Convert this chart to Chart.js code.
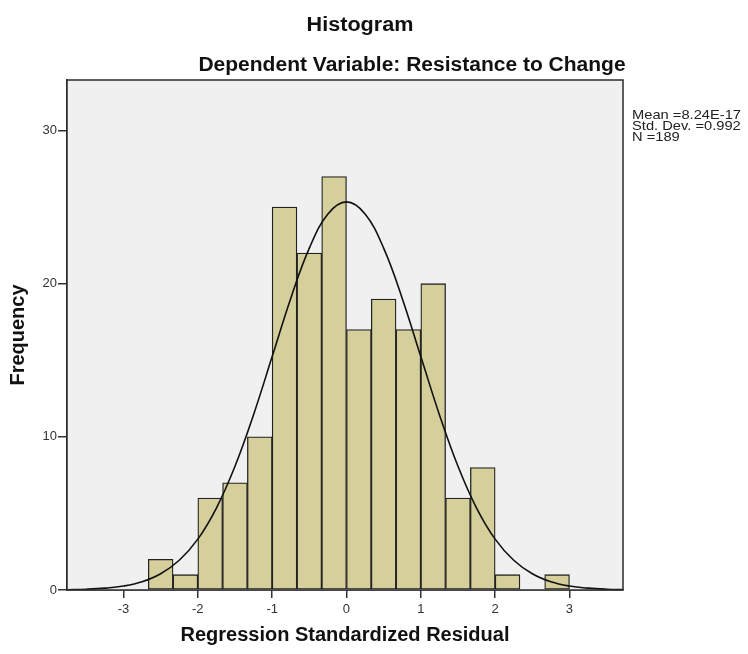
<!DOCTYPE html>
<html>
<head>
<meta charset="utf-8">
<script src="https://cdn.jsdelivr.net/npm/chart.js@4/dist/chart.umd.min.js"></script>
<style>
html,body{margin:0;padding:0;background:#fff}
#wrap{width:748px;height:654px;position:relative}
</style>
</head>
<body>
<div id="wrap"><canvas id="histChart" width="748" height="654"></canvas></div>
<script>
// bins are 1/3 wide
const binCenters=[-2.5,-2.1667,-1.8333,-1.5,-1.1667,-0.8333,-0.5,-0.1667,0.1667,0.5,0.8333,1.1667,1.5,1.8333,2.1667,2.8333];
const counts=[2,1,6,7,10,25,22,27,17,19,17,20,6,8,1,1];
const curveX=[-3.75,-3.5,-3.25,-3,-2.75,-2.5,-2.25,-2,-1.75,-1.5,-1.25,-1,-0.75,-0.5,-0.25,0,0.25,0.5,0.75,1,1.25,1.5,1.75,2,2.25,2.5,2.75,3,3.25,3.5,3.75];
const curveY=[0.02,0.05,0.12,0.26,0.54,1.06,1.94,3.32,5.35,8.08,11.45,15.24,19.04,22.32,24.55,25.34,24.55,22.32,19.04,15.24,11.45,8.08,5.35,3.32,1.94,1.06,0.54,0.26,0.12,0.05,0.02];
const xTicks=[-3,-2,-1,0,1,2,3];
const yTicks=[0,10,20,30];
const statLines=["Mean =8.24E-17","Std. Dev. =0.992","N =189"];

const FONT='"Liberation Sans",Arial,sans-serif';

// text in the source is a bit wider than it is tall
function wideText(ctx,t,x,y,sx){ctx.save();ctx.translate(x,y);ctx.scale(sx,1);ctx.fillText(t,0,0);ctx.restore()}

const framePlugin={
  id:"frame",
  beforeDatasetsDraw(chart){
    const {ctx,chartArea:a}=chart;
    ctx.save();ctx.fillStyle="#f0f0f0";ctx.fillRect(a.left,a.top,a.right-a.left,a.bottom-a.top);ctx.restore();
  },
  afterDraw(chart){
    const {ctx,chartArea:a}=chart;
    ctx.save();
    ctx.strokeStyle="#2b2b2b";ctx.lineWidth=1.5;
    ctx.strokeRect(a.left,a.top,a.right-a.left,a.bottom-a.top);
    ctx.fillStyle="#111";ctx.textAlign="center";ctx.textBaseline="middle";
    ctx.font="bold 20px "+FONT;wideText(ctx,"Histogram",360,25,1.08);
    ctx.font="bold 20px "+FONT;wideText(ctx,"Dependent Variable: Resistance to Change",412,65,1.05);
    ctx.font="13px "+FONT;ctx.textAlign="left";ctx.fillStyle="#222";
    statLines.forEach((t,i)=>wideText(ctx,t,632,115+i*11,1.13));
    ctx.restore();
  }
};

new Chart(document.getElementById("histChart"),{
  data:{datasets:[
    {type:"bar",data:binCenters.map((x,i)=>({x,y:counts[i]})),backgroundColor:"#d4cf9b",borderColor:"#222",borderWidth:1.3,borderSkipped:false,barPercentage:1,categoryPercentage:1,order:2},
    {type:"line",data:curveX.map((x,i)=>({x,y:curveY[i]})),borderColor:"#111",borderWidth:1.6,pointRadius:0,tension:0.4,fill:false,order:1}
  ]},
  options:{
    responsive:false,animation:false,
    layout:{padding:{top:80,right:125,left:0,bottom:0}},
    plugins:{legend:{display:false},tooltip:{enabled:false}},
    scales:{
      x:{type:"linear",min:-3.76,max:3.72,offset:false,
        afterBuildTicks:s=>{s.ticks=xTicks.map(v=>({value:v}))},
        afterFit:s=>{s.height=64},
        grid:{offset:false,drawOnChartArea:false,drawTicks:true,tickLength:8,color:"#333",lineWidth:1.5},
        border:{display:true,color:"#2b2b2b",width:1.5},
        ticks:{color:"#333",font:{family:FONT,size:13},padding:4,maxRotation:0},
        title:{display:true,text:"Regression Standardized Residual",color:"#111",font:{family:FONT,size:20,weight:"bold"},padding:{top:0,bottom:7}}
      },
      y:{type:"linear",min:0,max:33.3,
        afterBuildTicks:s=>{s.ticks=yTicks.map(v=>({value:v}))},
        afterFit:s=>{s.width=67},
        grid:{drawOnChartArea:false,drawTicks:true,tickLength:9,color:"#333",lineWidth:1.5},
        border:{display:true,color:"#2b2b2b",width:1.5},
        ticks:{color:"#333",font:{family:FONT,size:13},padding:1},
        title:{display:true,text:"Frequency",color:"#111",font:{family:FONT,size:20,weight:"bold"},padding:{top:6,bottom:0}}
      }
    }
  },
  plugins:[framePlugin]
});
</script>
</body>
</html>
